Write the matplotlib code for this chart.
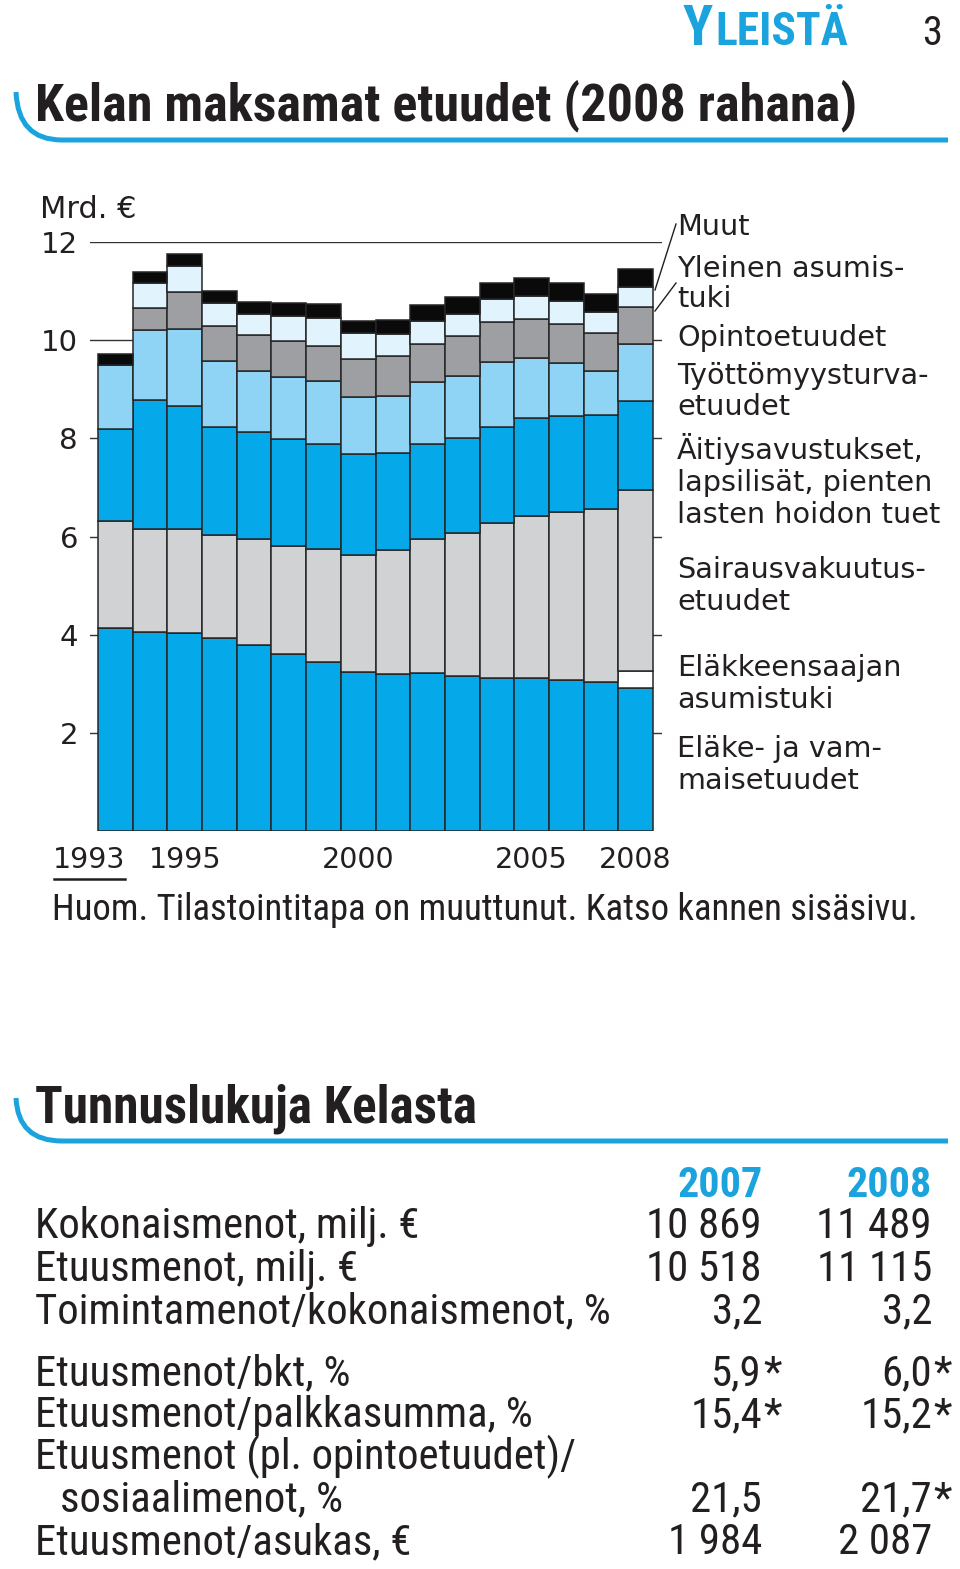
import matplotlib
matplotlib.use("Agg")
import matplotlib.pyplot as plt
import matplotlib.transforms as mtransforms
import numpy as np
from matplotlib import font_manager
from matplotlib.path import Path
from matplotlib.patches import PathPatch

# Kelan maksamat etuudet, mrd. € (2008 rahana), luettu kuvasta
years = list(range(1993, 2009))
elake = [4.14, 4.05, 4.04, 3.94, 3.79, 3.60, 3.45, 3.23, 3.20, 3.21, 3.16, 3.12, 3.11, 3.08, 3.04, 2.91]
elake_asumistuki = [0, 0, 0, 0, 0, 0, 0, 0, 0, 0, 0, 0, 0, 0, 0, 0.35]
sairaus = [2.17, 2.11, 2.12, 2.10, 2.16, 2.20, 2.29, 2.39, 2.52, 2.73, 2.92, 3.16, 3.31, 3.42, 3.53, 3.69]
perhe = [1.89, 2.63, 2.50, 2.19, 2.18, 2.18, 2.14, 2.06, 1.99, 1.94, 1.92, 1.95, 1.99, 1.96, 1.90, 1.81]
tyottomyys = [1.29, 1.41, 1.56, 1.34, 1.24, 1.27, 1.28, 1.17, 1.16, 1.26, 1.27, 1.32, 1.22, 1.08, 0.90, 1.17]
opinto = [0, 0.46, 0.76, 0.72, 0.73, 0.74, 0.72, 0.76, 0.80, 0.79, 0.81, 0.81, 0.80, 0.79, 0.77, 0.74]
asumistuki = [0, 0.50, 0.53, 0.47, 0.43, 0.50, 0.58, 0.53, 0.45, 0.46, 0.46, 0.47, 0.47, 0.46, 0.44, 0.42]
muut = [0.22, 0.23, 0.25, 0.24, 0.25, 0.26, 0.27, 0.25, 0.29, 0.32, 0.34, 0.34, 0.37, 0.38, 0.37, 0.37]

series = [elake, elake_asumistuki, sairaus, perhe, tyottomyys, opinto, asumistuki, muut]
colors = ["#05A8E8", "#FFFFFF", "#D1D2D4", "#05A8E8", "#8FD3F5", "#9D9FA2", "#E1F3FC", "#0A0A0A"]

yticks = [2, 4, 6, 8, 10, 12]
xtick_years = [1993, 1995, 2000, 2005, 2008]

# oikean reunan selitteet: (teksti, perusviivan y pikseleinä)
legend_lines = [
    ("Muut", 235), ("Yleinen asumis-", 277), ("tuki", 307),
    ("Opintoetuudet", 346), ("Työttömyysturva-", 384), ("etuudet", 415),
    ("Äitiysavustukset,", 459), ("lapsilisät, pienten", 491), ("lasten hoidon tuet", 523),
    ("Sairausvakuutus-", 578), ("etuudet", 610),
    ("Eläkkeensaajan", 676), ("asumistuki", 708),
    ("Eläke- ja vam-", 757), ("maisetuudet", 789),
]

# Tunnuslukuja Kelasta
table_cols = ["2007", "2008"]
table_rows = [
    "Kokonaismenot, milj. €",
    "Etuusmenot, milj. €",
    "Toimintamenot/kokonaismenot, %",
    "Etuusmenot/bkt, %",
    "Etuusmenot/palkkasumma, %",
    "Etuusmenot (pl. opintoetuudet)/",
    "sosiaalimenot, %",
    "Etuusmenot/asukas, €",
]
row_indent = [0, 0, 0, 0, 0, 0, 25, 0]
val_2007 = ["10 869", "10 518", "3,2", "5,9", "15,4", "", "21,5", "1 984"]
val_2008 = ["11 489", "11 115", "3,2", "6,0", "15,2", "", "21,7", "2 087"]
star_2007 = ["", "", "", "*", "*", "", "", ""]
star_2008 = ["", "", "", "*", "*", "", "*", ""]
row_base = [1238, 1281, 1323, 1385, 1427, 1469, 1511, 1554]


def find_narrow():
    names = {f.name for f in font_manager.fontManager.ttflist}
    for nm in ["Liberation Sans Narrow", "Roboto Condensed", "Open Sans Condensed",
               "Noto Sans Condensed", "DejaVu Sans Condensed", "Arial Narrow"]:
        if nm in names:
            return nm, "normal"
    for f in font_manager.fontManager.ttflist:
        if f.stretch in ("condensed", "semi-condensed") and \
                f.name in ("Noto Sans", "DejaVu Sans", "Open Sans", "Roboto", "Liberation Sans"):
            return f.name, f.stretch
    return "Roboto", "normal"


narrow, stretch = find_narrow()
plt.rcParams["font.family"] = ["DejaVu Sans"]

dark = "#231F20"
blue = "#1AA3DD"

W, H = 960, 1569
fig = plt.figure(figsize=(W / 100, H / 100), dpi=100)
renderer = fig.canvas.get_renderer()
bg = fig.add_axes([0, 0, 1, 1])
bg.set_xlim(0, W)
bg.set_ylim(H, 0)
bg.axis("off")


def text_w(s, size=20, **kw):
    t = bg.text(0, 0, s, fontsize=size, family=narrow, stretch=stretch, **kw)
    w = t.get_window_extent(renderer).width
    t.remove()
    return w


def fit_size(s, target_w, **kw):
    return 20 * target_w / text_w(s, 20, **kw)


def ntext(x, y, s, size, **kw):
    return bg.text(x, y, s, fontsize=size, family=narrow, stretch=stretch,
                   va="baseline", color=kw.pop("color", dark), **kw)


# pylväskaavio
ax = fig.add_axes([90 / W, 1 - 831 / H, (662 - 90) / W, (831 - 242) / H])
ax.patch.set_alpha(0)
ax.set_xlim(-0.5 - 8 / 34.69, 15.5 + 9 / 34.69)
ax.set_ylim(0, 12)
ax.axis("off")

for v in yticks:
    ax.axhline(v, color="#333333", lw=1.0, zorder=0)

x = np.arange(len(years))
bottom = np.zeros(len(years))
for vals, col in zip(series, colors):
    vals = np.array(vals)
    ax.bar(x, vals, width=1.0, bottom=bottom, color=col, edgecolor="#262626",
           linewidth=1.1, zorder=2)
    bottom += vals

# akselitekstit
ty = mtransforms.blended_transform_factory(bg.transData, ax.transData)
for v in yticks:
    bg.text(78, v, str(v), transform=ty, ha="right", va="center_baseline",
            fontsize=21, color=dark)
bg.text(40, 218, "Mrd. €", fontsize=22, color=dark, ha="left", va="baseline")

tx = mtransforms.blended_transform_factory(ax.transData, bg.transData)
for yr in xtick_years:
    xi = years.index(yr)
    if yr == 1993:
        xi = -0.75
    bg.text(xi, 868, str(yr), transform=tx, ha="center", va="baseline",
            fontsize=20.5, color=dark)
bg.plot([54, 125], [879, 879], color=dark, lw=1.8)

huom = "Huom. Tilastointitapa on muuttunut. Katso kannen sisäsivu."
ntext(52, 920, huom, fit_size(huom, 863), ha="left")

for txt, yb in legend_lines:
    bg.text(677, yb, txt, fontsize=20.7, color=dark, ha="left", va="baseline")
bg.plot([676, 655], [224, 290], color=dark, lw=1.0)
bg.plot([676, 655], [283, 311], color=dark, lw=1.0)


def swoosh(y_top, y_line):
    verts = [(16, y_top), (18, y_line), (62, y_line), (948, y_line)]
    codes = [Path.MOVETO, Path.CURVE3, Path.CURVE3, Path.LINETO]
    bg.add_patch(PathPatch(Path(verts, codes), fill=False, edgecolor=blue, lw=3.6,
                           capstyle="butt"))


# otsikot: "YLEISTÄ" kapiteelein
ysize = 40
wy = text_w("Y", ysize, weight="bold")
ntext(683, 45, "Y", ysize, weight="bold", color=blue, ha="left")
ntext(683 + wy + 2, 45, "LEISTÄ", ysize * 0.82, weight="bold", color=blue, ha="left")
ntext(942, 45, "3", fit_size("3", 20), ha="right")
title = "Kelan maksamat etuudet (2008 rahana)"
ntext(35, 120, title, fit_size(title, 820, weight="bold"), weight="bold", ha="left")
swoosh(92, 140)

head2 = "Tunnuslukuja Kelasta"
ntext(35, 1122, head2, fit_size(head2, 443, weight="bold"), weight="bold", ha="left")
swoosh(1098, 1141)

hsize = fit_size("2007", 85, weight="bold")
ntext(763, 1197, table_cols[0], hsize, weight="bold", color=blue, ha="right")
ntext(932, 1197, table_cols[1], hsize, weight="bold", color=blue, ha="right")

rsize = fit_size("Toimintamenot/kokonaismenot, %", 575)
for label, ind, a, b, sa, sb, yb in zip(table_rows, row_indent, val_2007, val_2008,
                                         star_2007, star_2008, row_base):
    ntext(35 + ind, yb, label, rsize, ha="left")
    ntext(762, yb, a, rsize, ha="right")
    ntext(932, yb, b, rsize, ha="right")
    if sa:
        ntext(763, yb, sa, rsize, ha="left")
    if sb:
        ntext(933, yb, sb, rsize, ha="left")

fig.savefig("out.png", dpi=100)
